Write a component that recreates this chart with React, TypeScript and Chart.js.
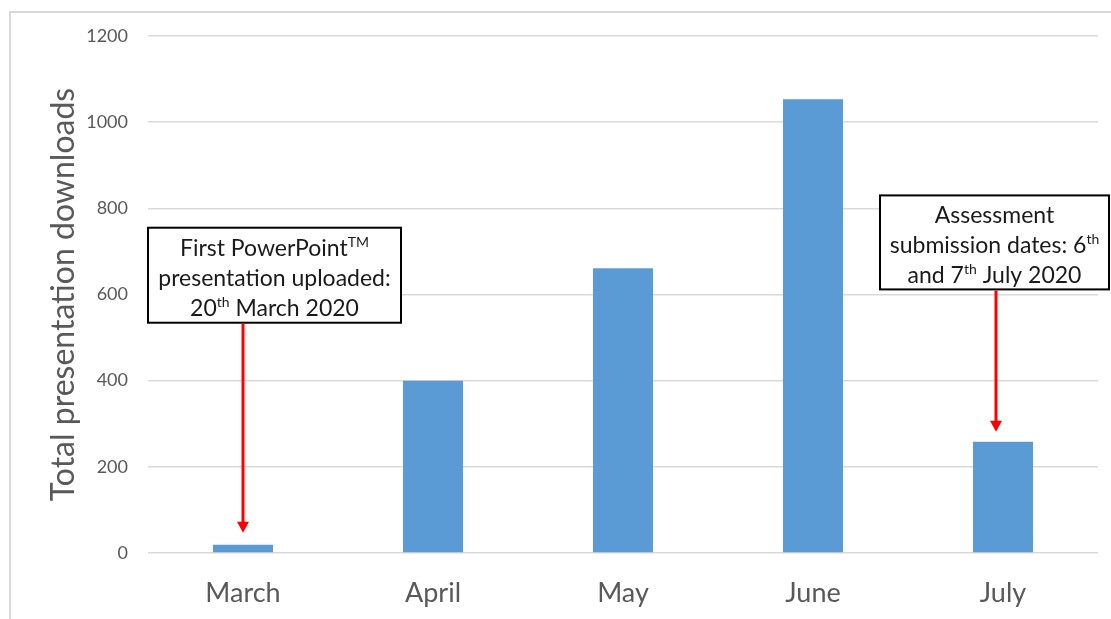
import React, { useEffect, useRef } from "react";
import { Chart, registerables } from "chart.js";

Chart.register(...registerables);

const categories = ["March", "April", "May", "June", "July"];
const downloads = [19, 400, 661, 1053, 258];
const yTicks = [0, 200, 400, 600, 800, 1000, 1200];
const yTitle = "Total presentation downloads";

type Seg = { t: string; sup?: boolean };
const note1Lines: Seg[][] = [
  [{ t: "First PowerPoint" }, { t: "TM", sup: true }],
  [{ t: "presentation uploaded:" }],
  [{ t: "20" }, { t: "th", sup: true }, { t: " March 2020" }],
];
const note2Lines: Seg[][] = [
  [{ t: "Assessment" }],
  [{ t: "submission dates: 6" }, { t: "th", sup: true }],
  [{ t: "and 7" }, { t: "th", sup: true }, { t: " July 2020" }],
];

const FONT = "Lato, 'Noto Sans', sans-serif";
const GRAY = "#595959";

function drawRich(ctx: CanvasRenderingContext2D, segs: Seg[], cx: number, baseY: number) {
  const main = `23px ${FONT}`;
  const sup = `14px ${FONT}`;
  let w = 0;
  const widths = segs.map((s) => {
    ctx.font = s.sup ? sup : main;
    const m = ctx.measureText(s.t).width;
    w += m;
    return m;
  });
  let x = cx - w / 2;
  ctx.textAlign = "left";
  ctx.textBaseline = "alphabetic";
  ctx.fillStyle = "#1a1a1a";
  segs.forEach((s, i) => {
    ctx.font = s.sup ? sup : main;
    ctx.fillText(s.t, x, s.sup ? baseY - 9 : baseY);
    x += widths[i];
  });
}

function drawArrow(ctx: CanvasRenderingContext2D, x: number, y1: number, y2: number) {
  const head = 11;
  ctx.save();
  ctx.strokeStyle = "#FF0000";
  ctx.fillStyle = "#FF0000";
  ctx.lineWidth = 3;
  ctx.beginPath();
  ctx.moveTo(x, y1);
  ctx.lineTo(x, y2 - head + 1);
  ctx.stroke();
  ctx.beginPath();
  ctx.moveTo(x - 6, y2 - head);
  ctx.lineTo(x + 6, y2 - head);
  ctx.lineTo(x, y2);
  ctx.closePath();
  ctx.fill();
  ctx.restore();
}

function drawNote(ctx: CanvasRenderingContext2D, left: number, top: number, w: number, h: number, lines: Seg[][]) {
  ctx.save();
  ctx.fillStyle = "#ffffff";
  ctx.fillRect(left, top, w, h);
  ctx.strokeStyle = "#000000";
  ctx.lineWidth = 2;
  ctx.strokeRect(left, top, w, h);
  const lh = 30;
  const startBase = top + 28;
  lines.forEach((segs, i) => drawRich(ctx, segs, left + w / 2, startBase + i * lh));
  ctx.restore();
}

const annotPlugin = {
  id: "annot",
  beforeDraw(chart: any) {
    const ctx = chart.ctx;
    ctx.save();
    ctx.fillStyle = "#ffffff";
    ctx.fillRect(0, 0, chart.width, chart.height);
    ctx.strokeStyle = "#D9D9D9";
    ctx.lineWidth = 2;
    ctx.strokeRect(10, 12, 1300, 800);
    ctx.restore();
  },
  afterDraw(chart: any) {
    const ctx = chart.ctx;
    const xs = chart.scales.x;
    const ys = chart.scales.y;
    const area = chart.chartArea;
    const b1Top = ys.getPixelForValue(755);
    const b1H = 95;
    drawNote(ctx, area.left, b1Top, 253, b1H, note1Lines);
    drawArrow(ctx, xs.getPixelForValue(0), b1Top + b1H + 1, ys.getPixelForValue(downloads[0]) - 12);
    const b2Top = ys.getPixelForValue(830);
    const b2H = 94;
    const b2Left = xs.getPixelForValue(4) - 123;
    drawNote(ctx, b2Left, b2Top, 229, b2H, note2Lines);
    drawArrow(ctx, xs.getPixelForValue(4) - 7, b2Top + b2H + 1, ys.getPixelForValue(downloads[4]) - 10);
  },
};

export default function App() {
  const ref = useRef<HTMLCanvasElement>(null);
  useEffect(() => {
    if (!ref.current) return;
    const chart = new Chart(ref.current, {
      type: "bar",
      data: {
        labels: categories,
        datasets: [
          {
            data: downloads,
            backgroundColor: "#5B9BD5",
            categoryPercentage: 1,
            barPercentage: 0.316,
          },
        ],
      },
      options: {
        animation: false,
        responsive: false,
        layout: { padding: { left: 0, right: 13, top: 36, bottom: 0 } },
        plugins: { legend: { display: false }, tooltip: { enabled: false } },
        scales: {
          x: {
            grid: { display: false },
            border: { display: false },
            ticks: { color: GRAY, font: { family: FONT, size: 27 }, padding: 16 },
            afterFit: (s: any) => {
              s.height = 66;
            },
          },
          y: {
            min: 0,
            max: 1200,
            afterBuildTicks: (s: any) => {
              s.ticks = yTicks.map((v) => ({ value: v }));
            },
            grid: { color: "#D9D9D9", lineWidth: 1.5, drawTicks: false },
            border: { display: false },
            ticks: {
              color: GRAY,
              font: { family: FONT, size: 18 },
              padding: 20,
              callback: (v: any) => String(v),
            },
            title: {
              display: true,
              text: yTitle,
              color: GRAY,
              font: { family: FONT, size: 32 },
              padding: { top: 44, bottom: 0 },
            },
            afterFit: (s: any) => {
              s.width = 148;
            },
          },
        },
      },
      plugins: [annotPlugin],
    });
    return () => chart.destroy();
  }, []);
  return (
    <div style={{ position: "absolute", left: 0, top: 0, width: 1111, height: 619 }}>
      <canvas ref={ref} width={1111} height={619} style={{ display: "block" }} />
    </div>
  );
}
